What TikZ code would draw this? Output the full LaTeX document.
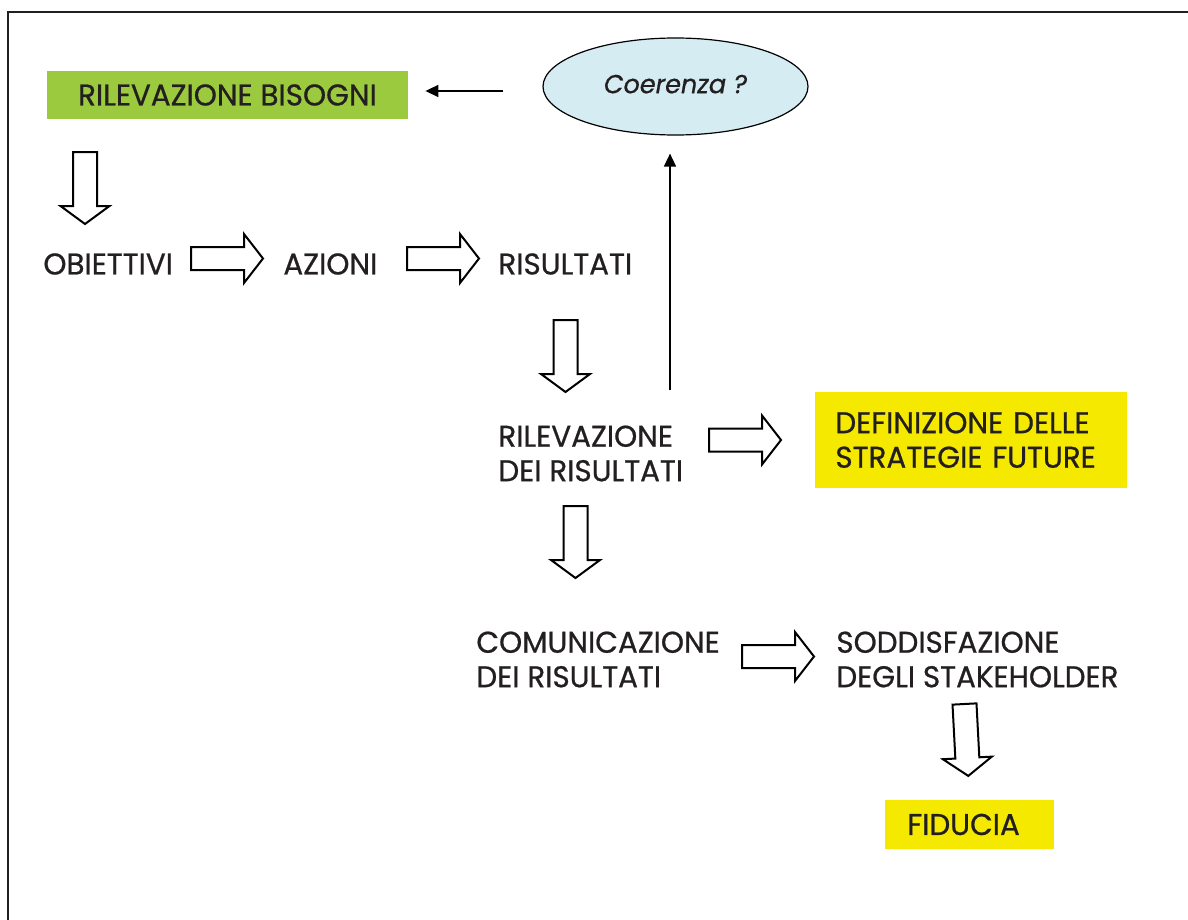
\documentclass[tikz,border=0pt]{standalone}
\usepackage{fontspec}
\setmainfont{Poppins}[FakeStretch=0.98, FakeBold=0.7]
\usetikzlibrary{shapes.geometric,arrows.meta}
\definecolor{ink}{HTML}{231F20}
\definecolor{leaf}{HTML}{9BCA3E}
\definecolor{sun}{HTML}{F5E900}
\definecolor{sky}{HTML}{D5ECF2}
\tikzset{
  lbl/.style={text=ink, inner sep=0pt, font=\fontsize{15}{17.25}\selectfont, align=left, anchor=west},
  greenbox/.style={fill=leaf, text=ink, font=\fontsize{15}{17.25}\selectfont, minimum width=180.5pt, minimum height=24pt, inner sep=0pt},
  yellowbox/.style={fill=sun, text=ink, font=\fontsize{15}{17.25}\selectfont, align=left, inner ysep=0pt},
  blockline/.style={draw=black, line width=1pt, fill=white, line join=miter},
  thinarrow/.style={draw=black, line width=0.8pt, -{Triangle[length=6.5pt,width=6pt]}},
  pics/rblock/.style={code={
    \draw[blockline] (0,-11.5) -- (53,-11.5) -- (53,-24.5) -- (72,0) -- (53,24.5) -- (53,11.5) -- (0,11.5) -- cycle;}},
  pics/dblock/.style={code={
    \draw[blockline] (-12,0) -- (12,0) -- (12,54) -- (24.5,54) -- (0,72) -- (-24.5,54) -- (-12,54) -- cycle;}}
}
\begin{document}
\begin{tikzpicture}[x=0.5pt,y=-0.5pt]
\useasboundingbox (0,0) rectangle (1188,920);
% frame
\draw[ink, line width=1.3pt] (8,920) -- (8,12) -- (1188,12);

% boxes and labels
\node[greenbox] (bisogni) at (227.5,95) {RILEVAZIONE BISOGNI};
\node[ellipse, draw=black, line width=0.6pt, fill=sky, minimum width=132.5pt, minimum height=48.5pt, inner sep=0pt,
      text=ink, font=\fontsize{13}{15}\selectfont\itshape] (coer) at (675.5,86.5) {\raisebox{2.5pt}{Coerenza ?}};

\node[lbl] (obiettivi) at (43,264) {OBIETTIVI};
\node[lbl] (azioni) at (283,264) {AZIONI};
\node[lbl] (risultati) at (498,264) {RISULTATI};
\node[lbl] (rilev) at (498,453.5) {RILEVAZIONE\\DEI RISULTATI};
\node[yellowbox, anchor=west, minimum width=156pt, minimum height=48pt, text width=136pt, inner xsep=10pt] (strategie) at (815,440) {DEFINIZIONE DELLE\\STRATEGIE FUTURE};
\node[lbl] (comunic) at (476,659.5) {COMUNICAZIONE\\DEI RISULTATI};
\node[lbl] (soddisf) at (836,659.5) {SODDISFAZIONE\\DEGLI STAKEHOLDER};
\node[yellowbox, anchor=west, minimum height=24.5pt, text width=62.5pt, inner xsep=11pt] (fiducia) at (885,824.5) {FIDUCIA};

% block arrows
\pic (d1) at (85,152) {dblock};
\pic (r1) at (191,258.5) {rblock};
\pic (r2) at (407,258.5) {rblock};
\pic (d2) at (565.5,320) {dblock};
\pic (r3) at (709,440) {rblock};
\pic (d3) at (575.5,506) {dblock};
\pic (r4) at (742,656.5) {rblock};
\pic[rotate=3] (d4) at (964.5,704) {dblock};

% thin arrows
\coordinate (upstart) at (670,390);
\draw[thinarrow, shorten >=9pt] (upstart) -- (upstart |- coer.south);
\coordinate (leftstart) at (503,91);
\draw[thinarrow, shorten >=8.5pt] (leftstart) -- (leftstart -| bisogni.east);
\end{tikzpicture}
\end{document}
